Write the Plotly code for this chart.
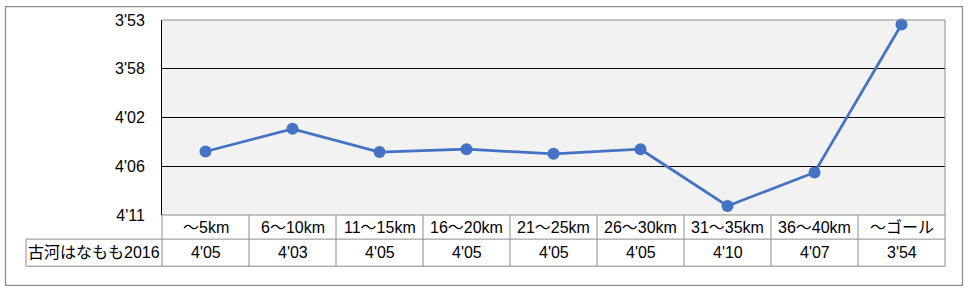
import plotly.graph_objects as go

categories = ["～5km", "6～10km", "11～15km", "16～20km", "21～25km",
              "26～30km", "31～35km", "36～40km", "～ゴール"]
series_name = "古河はなもも2016"
# pace per km in seconds
pace_sec = [245.0, 243.0, 245.05, 244.8, 245.2, 244.8, 249.8, 246.85, 233.8]
y_ticks_sec = [233.4, 237.7, 242.0, 246.3, 250.6]


def fmt(sec):
    s = int(round(sec))
    return f"{s // 60}'{s % 60:02d}"


W, H = 969, 292
L, R, T, B = 162, 24, 17, 77
PW, PH = W - L - R, H - T - B


def px(x):
    return (x - L) / PW


def py(y):
    return (H - B - y) / PH


FONT = "Liberation Sans, Arial, Noto Sans CJK JP"
GRAY = "#8c8c8c"
FS = 16

fig = go.Figure()
fig.add_trace(go.Scatter(
    x=categories, y=pace_sec, mode="lines+markers",
    line=dict(color="#4472C4", width=2.75),
    marker=dict(color="#4472C4", size=12),
    showlegend=False, hoverinfo="skip", cliponaxis=False,
))

shapes = []
# outer border
shapes.append(dict(type="rect", xref="paper", yref="paper",
                   x0=px(5.5), x1=px(962.5), y0=py(286.5), y1=py(3.5),
                   line=dict(color=GRAY, width=1.3), layer="below"))
# plot area top & right border
shapes.append(dict(type="line", xref="paper", yref="paper", x0=0, x1=1, y0=1, y1=1,
                   line=dict(color=GRAY, width=1), layer="above"))
shapes.append(dict(type="line", xref="paper", yref="paper", x0=1, x1=1, y0=0, y1=1,
                   line=dict(color=GRAY, width=1), layer="above"))
# table
n = len(categories)
row1_bot = py(239.5)
row2_bot = py(267)
lab_left = px(26)
shapes.append(dict(type="line", xref="paper", yref="paper", x0=0, x1=1, y0=0, y1=0,
                   line=dict(color=GRAY, width=1), layer="above"))
shapes.append(dict(type="line", xref="paper", yref="paper", x0=lab_left, x1=1,
                   y0=row1_bot, y1=row1_bot, line=dict(color=GRAY, width=1)))
shapes.append(dict(type="line", xref="paper", yref="paper", x0=lab_left, x1=1,
                   y0=row2_bot, y1=row2_bot, line=dict(color=GRAY, width=1)))
for i in range(n + 1):
    shapes.append(dict(type="line", xref="paper", yref="paper", x0=i / n, x1=i / n,
                       y0=row2_bot, y1=0, line=dict(color=GRAY, width=1)))
shapes.append(dict(type="line", xref="paper", yref="paper", x0=lab_left, x1=lab_left,
                   y0=row2_bot, y1=row1_bot, line=dict(color=GRAY, width=1)))

annotations = []
r1c = (0 + row1_bot) / 2
r2c = (row1_bot + row2_bot) / 2
tf = dict(size=FS, color="black", family=FONT)
for i, (c, v) in enumerate(zip(categories, pace_sec)):
    xc = (i + 0.5) / n
    annotations.append(dict(x=xc, y=r1c, xref="paper", yref="paper", text=c,
                            xanchor="center", yanchor="middle",
                            showarrow=False, font=tf))
    annotations.append(dict(x=xc, y=r2c, xref="paper", yref="paper", text=fmt(v),
                            xanchor="center", yanchor="middle",
                            showarrow=False, font=tf))
annotations.append(dict(x=(lab_left + 0) / 2, y=r2c, xref="paper", yref="paper",
                        text=series_name, showarrow=False,
                        xanchor="center", yanchor="middle", font=tf))

fig.update_layout(
    width=W, height=H, autosize=False,
    margin=dict(l=L, r=R, t=T, b=B, pad=0),
    paper_bgcolor="white", plot_bgcolor="#f2f2f2",
    font=dict(family=FONT, size=FS, color="black"),
    shapes=shapes, annotations=annotations,
    xaxis=dict(type="category", range=[-0.5, n - 0.5], showticklabels=False,
               showgrid=False, zeroline=False, showline=False, fixedrange=True),
    yaxis=dict(range=[y_ticks_sec[-1], y_ticks_sec[0]], tickvals=y_ticks_sec,
               ticktext=[fmt(t) for t in y_ticks_sec], showgrid=True,
               gridcolor="black", gridwidth=1, zeroline=False, showline=True,
               linecolor="black", linewidth=1, ticks="", ticklabelstandoff=13,
               tickfont=dict(size=FS, family=FONT), fixedrange=True),
)

fig.write_html("out.html")
